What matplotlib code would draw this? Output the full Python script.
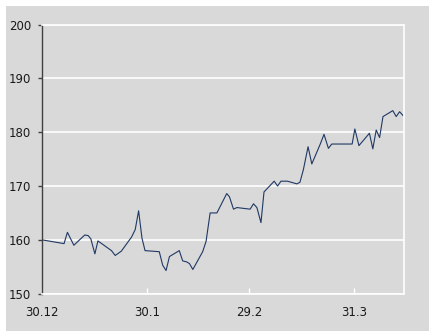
import numpy as np
import matplotlib
matplotlib.use("Agg")
import matplotlib.pyplot as plt
from matplotlib.patches import Rectangle

# days since 30.12 and price values
days = [0.0, 6.5, 7.5, 9.4, 12.6, 13.6, 14.4, 15.6, 16.5, 18.5, 20.5, 21.6,
        23.4, 26.4, 27.5, 28.5, 29.5, 30.4, 34.6, 35.6, 36.6, 37.6, 40.5,
        41.5, 42.7, 43.5, 44.5, 47.4, 48.4, 49.6, 51.6, 54.5, 55.3, 56.5,
        57.5, 61.4, 62.4, 63.4, 64.6, 65.5, 68.5, 69.5, 70.5, 72.4, 75.2,
        76.1, 77.1, 78.5, 79.6, 82.1, 83.2, 84.5, 85.5, 91.5, 92.3, 93.5,
        96.6, 97.6, 98.6, 99.6, 100.6, 103.5, 104.5, 105.5, 106.5]
values = [160.0, 159.3, 161.4, 159.0, 160.9, 160.8, 160.2, 157.4, 159.8,
          158.9, 158.0, 157.1, 157.9, 160.5, 161.9, 165.4, 160.3, 158.0,
          157.8, 155.3, 154.3, 156.9, 158.0, 156.1, 155.9, 155.6, 154.5,
          157.8, 159.7, 165.0, 165.0, 168.6, 168.0, 165.7, 166.0, 165.7,
          166.7, 166.0, 163.2, 168.9, 170.9, 170.0, 170.9, 170.9, 170.4,
          170.7, 173.0, 177.3, 174.1, 177.8, 179.6, 177.0, 177.8, 177.8,
          180.6, 177.5, 179.8, 176.9, 180.4, 179.0, 182.9, 184.0, 182.9,
          183.8, 183.1]

tick_days = [0, 31, 61, 92]
tick_labels = ["30.12", "30.1", "29.2", "31.3"]
y_ticks = [150, 160, 170, 180, 190, 200]

bg = "#d9d9d9"
fig = plt.figure(figsize=(4.29, 3.31), dpi=100)
fig.patch.set_facecolor("white")
fig.patches.append(Rectangle((6 / 429, 0), 1, 325 / 331, transform=fig.transFigure,
                             facecolor=bg, edgecolor="none", zorder=-10))

ax = fig.add_axes([42 / 429, 37.3 / 331, 362 / 429, 269.2 / 331])
ax.set_facecolor(bg)
ax.plot(days, values, color="#1f3864", linewidth=0.8)

ax.set_xlim(0, 106.8)
ax.set_ylim(150, 200)
ax.set_yticks(y_ticks)
ax.set_xticks(tick_days)
ax.set_xticklabels(tick_labels)
ax.grid(axis="y", color="white", linewidth=1.2)
ax.set_axisbelow(True)

for side in ["top", "right", "bottom"]:
    ax.spines[side].set_color("white")
    ax.spines[side].set_linewidth(1.2)
ax.spines["left"].set_color("#404040")
ax.spines["left"].set_linewidth(1)

ax.tick_params(axis="x", direction="in", color="white", length=4, width=1,
               pad=9, labelsize=8.5, labelcolor="#1a1a1a")
ax.tick_params(axis="y", direction="out", color="#404040", length=3, width=1,
               pad=5, labelsize=8.5, labelcolor="#1a1a1a")

fig.savefig("out.png", dpi=100, facecolor=fig.get_facecolor())
